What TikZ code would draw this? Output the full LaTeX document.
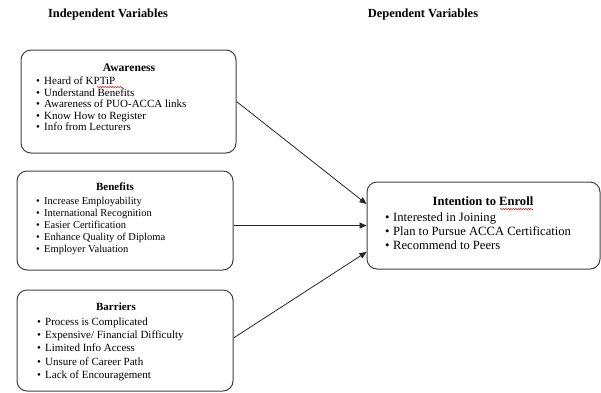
\documentclass[tikz,border=0pt]{standalone}
\usepackage{fontspec}
\setmainfont{Liberation Serif}
\usetikzlibrary{arrows.meta,decorations.pathmorphing}
\tikzset{
  vbox/.style={draw=black!75, line width=1pt, rounded corners=10pt, inner sep=0pt},
  heading/.style={font=\fontsize{12.4}{14}\selectfont\bfseries, inner sep=0pt},
  boxtitle/.style={font=\fontsize{11}{13}\selectfont\bfseries, inner sep=0pt, anchor=base},
  item/.style={font=\fontsize{11}{13}\selectfont, inner sep=0pt, anchor=base west},
  bigtext/.style={font=\fontsize{12.6}{14}\selectfont},
  bigtitle/.style={font=\fontsize{12.6}{14}\selectfont\bfseries},
  smalltext/.style={font=\fontsize{10.5}{12}\selectfont},
  link/.style={draw=black!85, line width=0.8pt, -{Triangle[length=7pt,width=6pt]}},
  squig/.style={draw=red!80!black, line width=0.5pt, decorate, decoration={snake, amplitude=0.6pt, segment length=2.5pt}}
}
\newcommand{\bul}{\makebox[8pt][l]{\textbullet}}
\begin{document}
\begin{tikzpicture}[x=1pt,y=-1pt]
\useasboundingbox (0,0) rectangle (601,392);
% headings
\node[heading] (hind) at (108,15) {Independent Variables};
\node[heading] (hdep) at (423,15) {Dependent Variables};
% boxes
\node[vbox, minimum width=215pt, minimum height=103pt] (aw) at (128.5,101.5) {};
\node[vbox, minimum width=216pt, minimum height=99pt] (be) at (125,220.5) {};
\node[vbox, minimum width=216pt, minimum height=101pt] (ba) at (125,340.5) {};
\node[vbox, minimum width=233pt, minimum height=87pt] (in) at (483.5,225.5) {};
% titles
\node[boxtitle, font=\fontsize{11.6}{13}\selectfont\bfseries] (taw) at (129,71) {Awareness};
\node[boxtitle] (tbe) at (115,190) {Benefits};
\node[boxtitle] (tba) at (116,310) {Barriers};
\node[boxtitle, bigtitle] (tin) at (483,205) {Intention to Enroll};
% items
\foreach \t [count=\i from 0] in {Heard of KPTiP, Understand Benefits, Awareness of PUO-ACCA links, Know How to Register, Info from Lecturers}
  \node[item] (aw\i) at (36,{84.5+\i*11.6}) {\bul\t};
\foreach \t [count=\i from 0] in {Increase Employability, International Recognition, Easier Certification, Enhance Quality of Diploma, Employer Valuation}
  \node[item, smalltext] (be\i) at (36,{204.5+\i*11.9}) {\bul\t};
\foreach \t [count=\i from 0] in {Process is Complicated, Expensive/ Financial Difficulty, Limited Info Access, Unsure of Career Path, Lack of Encouragement}
  \node[item] (ba\i) at (37,{325+\i*13.4}) {\bul\t};
\foreach \t [count=\i from 0] in {Interested in Joining, Plan to Pursue ACCA Certification, Recommend to Peers}
  \node[item, bigtext] (in\i) at (385,{221+\i*14}) {\bul\t};
% spell-check squiggles
\draw[squig] (97,87) -- (123,87);
\draw[squig] (500,209) -- (533,209);
% connectors
\draw[link] (aw.east) -- ([yshift=21.5pt]in.west);
\draw[link] ([yshift=-5pt]be.east) -- ([yshift=-5pt]be.east -| in.west);
\draw[link] ([yshift=2.5pt]ba.east) -- ([yshift=-26.5pt]in.west);
\end{tikzpicture}
\end{document}
